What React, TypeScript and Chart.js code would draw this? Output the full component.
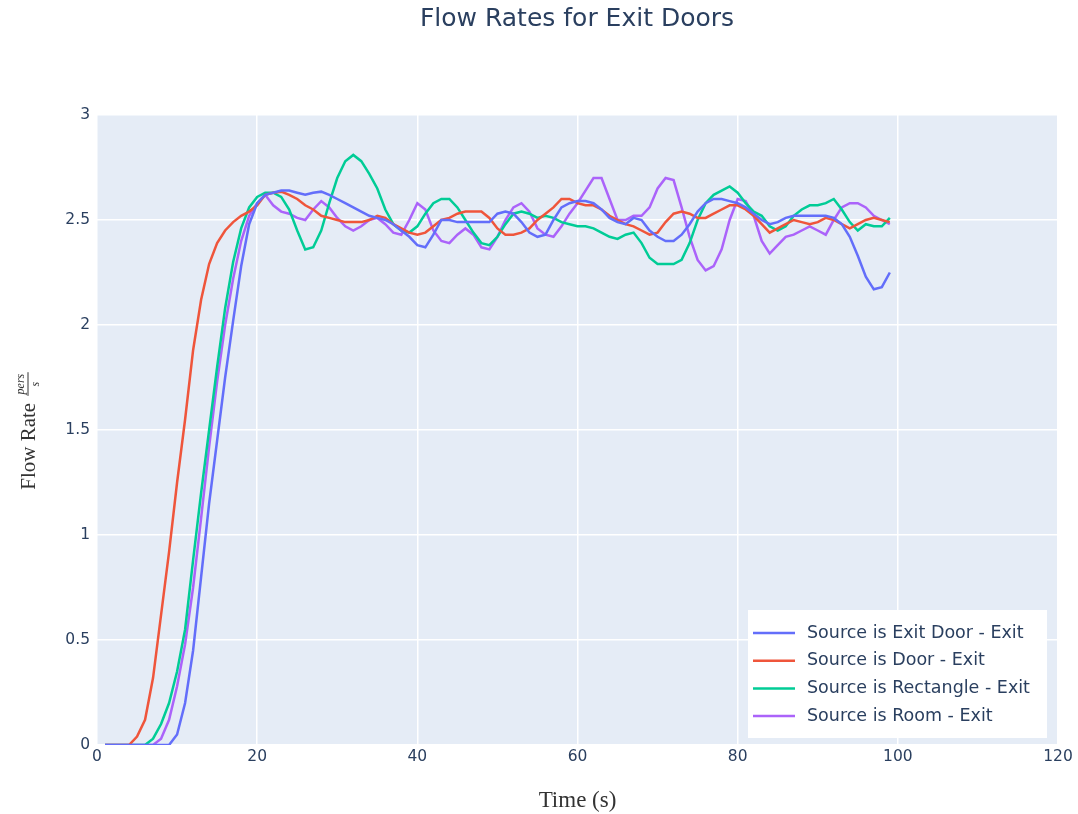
import React, { useEffect, useRef } from "react";
import { Chart, registerables } from "chart.js";

Chart.register(...registerables);

const TIME = [
  1, 2, 3, 4, 5, 6, 7, 8, 9,
  10, 11, 12, 13, 14, 15, 16, 17, 18, 19,
  20, 21, 22, 23, 24, 25, 26, 27, 28, 29,
  30, 31, 32, 33, 34, 35, 36, 37, 38, 39,
  40, 41, 42, 43, 44, 45, 46, 47, 48, 49,
  50, 51, 52, 53, 54, 55, 56, 57, 58, 59,
  60, 61, 62, 63, 64, 65, 66, 67, 68, 69,
  70, 71, 72, 73, 74, 75, 76, 77, 78, 79,
  80, 81, 82, 83, 84, 85, 86, 87, 88, 89,
  90, 91, 92, 93, 94, 95, 96, 97, 98, 99,
];

const EXIT_DOOR = [
  0, 0, 0, 0, 0, 0, 0, 0, 0,
  0.05, 0.2, 0.45, 0.8, 1.15, 1.45, 1.75, 2.02, 2.28, 2.48,
  2.58, 2.62, 2.63, 2.64, 2.64, 2.63, 2.62, 2.63, 2.635, 2.62,
  2.6, 2.58, 2.56, 2.54, 2.52, 2.51, 2.5, 2.48, 2.45, 2.42,
  2.38, 2.37, 2.43, 2.5, 2.5, 2.49, 2.49, 2.49, 2.49, 2.49,
  2.53, 2.54, 2.53, 2.49, 2.44, 2.42, 2.43, 2.5, 2.56, 2.58,
  2.59, 2.59, 2.58, 2.55, 2.51, 2.49, 2.48, 2.51, 2.5, 2.45,
  2.42, 2.4, 2.4, 2.43, 2.48, 2.54, 2.58, 2.6, 2.6, 2.59,
  2.58, 2.56, 2.53, 2.5, 2.48, 2.49, 2.51, 2.52, 2.52, 2.52,
  2.52, 2.52, 2.51, 2.48, 2.42, 2.33, 2.23, 2.17, 2.18, 2.25,
];

const DOOR = [
  0, 0, 0, 0, 0.04, 0.12, 0.32, 0.62, 0.92,
  1.25, 1.55, 1.88, 2.12, 2.29, 2.39, 2.45, 2.49, 2.52, 2.54,
  2.57, 2.62, 2.63, 2.635, 2.62, 2.6, 2.57, 2.55, 2.52, 2.51,
  2.5, 2.49, 2.49, 2.49, 2.5, 2.52, 2.51, 2.48, 2.46, 2.44,
  2.43, 2.44, 2.47, 2.5, 2.51, 2.53, 2.54, 2.54, 2.54, 2.51,
  2.46, 2.43, 2.43, 2.44, 2.46, 2.5, 2.53, 2.56, 2.6, 2.6,
  2.58, 2.57, 2.57, 2.55, 2.52, 2.5, 2.48, 2.47, 2.45, 2.43,
  2.44, 2.49, 2.53, 2.54, 2.53, 2.51, 2.51, 2.53, 2.55, 2.57,
  2.57, 2.55, 2.52, 2.48, 2.44, 2.46, 2.48, 2.5, 2.49, 2.48,
  2.49, 2.51, 2.5, 2.48, 2.46, 2.48, 2.5, 2.51, 2.5, 2.49,
];

const RECTANGLE = [
  0, 0, 0, 0, 0, 0, 0.03, 0.1, 0.2,
  0.35, 0.55, 0.88, 1.2, 1.5, 1.8, 2.08, 2.3, 2.46, 2.56,
  2.61, 2.63, 2.63, 2.61, 2.55, 2.45, 2.36, 2.37, 2.45, 2.58,
  2.7, 2.78, 2.81, 2.78, 2.72, 2.65, 2.55, 2.48, 2.45, 2.44,
  2.47, 2.53, 2.58, 2.6, 2.6, 2.56, 2.5, 2.44, 2.39, 2.38,
  2.42, 2.48, 2.53, 2.54, 2.53, 2.51, 2.52, 2.51, 2.49, 2.48,
  2.47, 2.47, 2.46, 2.44, 2.42, 2.41, 2.43, 2.44, 2.39, 2.32,
  2.29, 2.29, 2.29, 2.31, 2.39, 2.5, 2.58, 2.62, 2.64, 2.66,
  2.63, 2.58, 2.54, 2.52, 2.47, 2.45, 2.47, 2.52, 2.55, 2.57,
  2.57, 2.58, 2.6, 2.55, 2.49, 2.45, 2.48, 2.47, 2.47, 2.51,
];

const ROOM = [
  0, 0, 0, 0, 0, 0, 0, 0.03, 0.12,
  0.28, 0.48, 0.75, 1.08, 1.42, 1.73, 2.0, 2.22, 2.4, 2.52,
  2.58, 2.62, 2.57, 2.54, 2.53, 2.51, 2.5, 2.55, 2.59, 2.56,
  2.51, 2.47, 2.45, 2.47, 2.5, 2.51, 2.48, 2.44, 2.43, 2.5,
  2.58, 2.55, 2.45, 2.4, 2.39, 2.43, 2.46, 2.43, 2.37, 2.36,
  2.42, 2.5, 2.56, 2.58, 2.54, 2.46, 2.43, 2.42, 2.47, 2.53,
  2.58, 2.64, 2.7, 2.7, 2.6, 2.5, 2.5, 2.52, 2.52, 2.56,
  2.65, 2.7, 2.69, 2.56, 2.42, 2.31, 2.26, 2.28, 2.36, 2.5,
  2.6, 2.59, 2.52, 2.4, 2.34, 2.38, 2.42, 2.43, 2.45, 2.47,
  2.45, 2.43, 2.5, 2.56, 2.58, 2.58, 2.56, 2.52, 2.5, 2.48,
];

const SERIES_NAMES = [
  "Source is Exit Door - Exit",
  "Source is Door - Exit",
  "Source is Rectangle - Exit",
  "Source is Room - Exit",
];
const SERIES_COLORS = ["#636efa", "#EF553B", "#00cc96", "#ab63fa"];
const X_TICKS = [0, 20, 40, 60, 80, 100, 120];
const Y_TICKS = [0, 0.5, 1, 1.5, 2, 2.5, 3];

const TITLE = "Flow Rates for Exit Doors";
const X_TITLE = "Time (s)";
const Y_TITLE = "Flow Rate";
const Y_FRAC_NUM = "pers";
const Y_FRAC_DEN = "s";

const SANS = "'DejaVu Sans', Verdana, sans-serif";
const SERIF = "'Liberation Serif', 'DejaVu Serif', serif";
const TEXT_COLOR = "#2a3f5f";

const decorPlugin = {
  id: "decor",
  afterDraw(chart: any) {
    const ctx = chart.ctx as CanvasRenderingContext2D;
    const area = chart.chartArea;
    ctx.save();
    // Title
    ctx.fillStyle = TEXT_COLOR;
    ctx.font = `25px ${SANS}`;
    ctx.textAlign = "center";
    ctx.textBaseline = "middle";
    ctx.fillText(TITLE, 577, 19);

    // X axis title
    ctx.fillStyle = "#333";
    ctx.font = `23px ${SERIF}`;
    ctx.fillText(X_TITLE, (area.left + area.right) / 2, 801);

    // Y axis title (rotated with fraction)
    ctx.save();
    ctx.translate(28, 431);
    ctx.rotate(-Math.PI / 2);
    ctx.font = `21px ${SERIF}`;
    const w1 = ctx.measureText(Y_TITLE).width;
    ctx.font = `italic 12px ${SERIF}`;
    const wn = ctx.measureText(Y_FRAC_NUM).width;
    const wd = ctx.measureText(Y_FRAC_DEN).width;
    const wf = Math.max(wn, wd) + 3;
    const gap = 7;
    const total = w1 + gap + wf;
    const start = -total / 2;
    ctx.textAlign = "left";
    ctx.textBaseline = "middle";
    ctx.font = `21px ${SERIF}`;
    ctx.fillText(Y_TITLE, start, 1);
    const fx = start + w1 + gap;
    ctx.strokeStyle = "#333";
    ctx.lineWidth = 1;
    ctx.beginPath();
    ctx.moveTo(fx, 0);
    ctx.lineTo(fx + wf, 0);
    ctx.stroke();
    ctx.font = `italic 12px ${SERIF}`;
    ctx.textAlign = "center";
    ctx.textBaseline = "bottom";
    ctx.fillText(Y_FRAC_NUM, fx + wf / 2, -1);
    ctx.textBaseline = "top";
    ctx.fillText(Y_FRAC_DEN, fx + wf / 2, 2);
    ctx.restore();

    // Legend
    const lw = 299;
    const lh = 128;
    const lx = area.right - 11 - lw;
    const ly = area.bottom - 7 - lh;
    ctx.fillStyle = "#ffffff";
    ctx.fillRect(lx, ly, lw, lh);
    ctx.font = `17.5px ${SANS}`;
    ctx.textAlign = "left";
    ctx.textBaseline = "middle";
    SERIES_NAMES.forEach((name, i) => {
      const cy = ly + 23 + i * 27.7;
      ctx.strokeStyle = SERIES_COLORS[i];
      ctx.lineWidth = 2.5;
      ctx.beginPath();
      ctx.moveTo(lx + 5, cy);
      ctx.lineTo(lx + 47, cy);
      ctx.stroke();
      ctx.fillStyle = TEXT_COLOR;
      ctx.fillText(name, lx + 59, cy);
    });
    ctx.restore();
  },
};

export default function App() {
  const canvasRef = useRef<HTMLCanvasElement | null>(null);

  useEffect(() => {
    document.body.style.margin = "0";
    const canvas = canvasRef.current;
    if (!canvas) return;
    const seriesValues = [EXIT_DOOR, DOOR, RECTANGLE, ROOM];
    const chart = new Chart(canvas, {
      type: "line",
      data: {
        datasets: seriesValues.map((vals, i) => ({
          label: SERIES_NAMES[i],
          data: TIME.map((t, j) => ({ x: t, y: vals[j] })),
          borderColor: SERIES_COLORS[i],
          backgroundColor: SERIES_COLORS[i],
          borderWidth: 2.5,
          pointRadius: 0,
          tension: 0,
          fill: false,
        })),
      },
      options: {
        animation: false,
        responsive: false,
        devicePixelRatio: 1,
        layout: { padding: { top: 115, right: 20, left: 0, bottom: 0 } },
        plugins: {
          legend: { display: false },
          title: { display: false },
          tooltip: { enabled: false },
        },
        scales: {
          x: {
            type: "linear",
            min: 0,
            max: 120,
            afterBuildTicks: (scale: any) => {
              scale.ticks = X_TICKS.map((v) => ({ value: v }));
            },
            afterFit: (scale: any) => {
              scale.height = 69;
            },
            ticks: {
              font: { family: SANS, size: 15.5 },
              color: TEXT_COLOR,
              padding: 3,
              maxRotation: 0,
              callback: (v: any) => String(v),
            },
            grid: { color: "#ffffff", lineWidth: 1.5, drawTicks: false },
            border: { display: false },
          },
          y: {
            type: "linear",
            min: 0,
            max: 3,
            afterBuildTicks: (scale: any) => {
              scale.ticks = Y_TICKS.map((v) => ({ value: v }));
            },
            afterFit: (scale: any) => {
              scale.width = 97;
            },
            ticks: {
              font: { family: SANS, size: 15.5 },
              color: TEXT_COLOR,
              padding: 7,
              callback: (v: any) => String(v),
            },
            grid: { color: "#ffffff", lineWidth: 1.5, drawTicks: false },
            border: { display: false },
          },
        },
      },
      plugins: [
        {
          id: "bg",
          beforeDraw(c: any) {
            const a = c.chartArea;
            const cx = c.ctx as CanvasRenderingContext2D;
            cx.save();
            cx.fillStyle = "#ffffff";
            cx.fillRect(0, 0, c.width, c.height);
            cx.fillStyle = "#E5ECF6";
            cx.fillRect(a.left, a.top, a.right - a.left, a.bottom - a.top);
            cx.restore();
          },
        },
        decorPlugin,
      ],
    });
    return () => chart.destroy();
  }, []);

  return (
    <div style={{ width: 1078, height: 814 }}>
      <canvas ref={canvasRef} width={1078} height={814} />
    </div>
  );
}
